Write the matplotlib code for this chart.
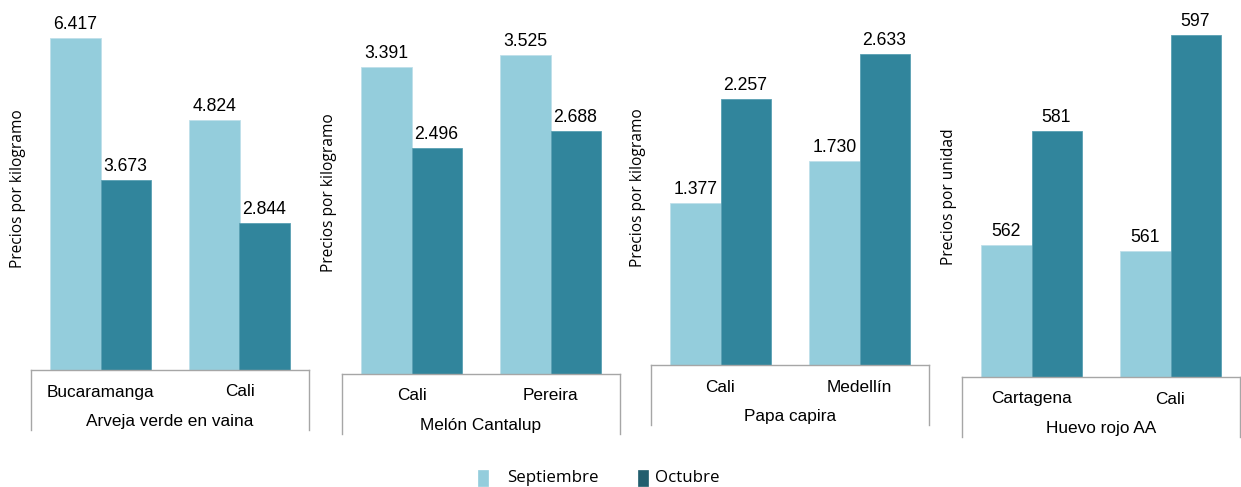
import matplotlib
matplotlib.use("Agg")
import matplotlib.pyplot as plt
from matplotlib.patches import Rectangle

# ---- data ----
products = ["Arveja verde en vaina", "Melón Cantalup", "Papa capira", "Huevo rojo AA"]
cities = [["Bucaramanga", "Cali"], ["Cali", "Pereira"], ["Cali", "Medellín"], ["Cartagena", "Cali"]]
septiembre = [[6.417, 4.824], [3.391, 3.525], [1.377, 1.730], [562, 561]]
octubre = [[3.673, 2.844], [2.496, 2.688], [2.257, 2.633], [581, 597]]
ylabels = ["Precios por kilogramo", "Precios por kilogramo", "Precios por kilogramo", "Precios por unidad"]
series_names = ["Septiembre", "Octubre"]
ylims = [(0, 7), (0, 4), (0, 3), (540, 600)]
fmt = ["{:.3f}", "{:.3f}", "{:.3f}", "{:.0f}"]

# ---- layout (pixels) ----
W, H = 1241, 487
# left, right, top, baseline
boxes = [(31, 309, 7.75, 370), (342, 620, 12, 374), (651, 929, 11, 365), (962, 1240, 17, 377)]
box_depth = 60

c_light = "#94CDDC"
c_dark = "#31859C"
c_dark_leg = "#225E6E"
c_line = "#A6A6A6"

fig = plt.figure(figsize=(W / 100, H / 100), dpi=100)

for i in range(4):
    l, r, t, b = boxes[i]
    ax = fig.add_axes([l / W, 1 - b / H, (r - l) / W, (b - t) / H])
    x = [0, 1]
    w = 0.36
    b1 = ax.bar([xi - w / 2 for xi in x], septiembre[i], width=w, color=c_light,
                edgecolor="#bfe0ea", linewidth=0.6)
    b2 = ax.bar([xi + w / 2 for xi in x], octubre[i], width=w, color=c_dark,
                edgecolor="#5aa0b3", linewidth=0.6)
    ax.set_xlim(-0.5, 1.5)
    ax.set_ylim(*ylims[i])
    for bars, vals in ((b1, septiembre[i]), (b2, octubre[i])):
        for rect, v in zip(bars, vals):
            ax.annotate(fmt[i].format(v), (rect.get_x() + rect.get_width() / 2, v),
                        xytext=(0, 3.5), textcoords="offset points", ha="center", va="bottom",
                        fontsize=12.7, family="Liberation Sans", color="#000000")
    for s in ("top", "right", "left"):
        ax.spines[s].set_visible(False)
    ax.spines["bottom"].set_color(c_line)
    ax.spines["bottom"].set_linewidth(1.0)
    ax.set_yticks([])
    ax.set_xticks([])
    hpx = b - t
    d = box_depth / hpx
    for xx in (0, 1):
        ax.plot([xx, xx], [0, -d], transform=ax.transAxes, color=c_line, lw=1.0, clip_on=False)
    for xi, c in zip(x, cities[i]):
        ax.text(xi, -22 / hpx, c, transform=ax.get_xaxis_transform(), ha="center", va="center",
                fontsize=12.4, family="Liberation Sans")
    ax.text(0.5, -51.5 / hpx, products[i], transform=ax.transAxes, ha="center", va="center",
            fontsize=12.4, family="Liberation Sans")
    ax.text(-13 / (r - l), 0.5, ylabels[i], transform=ax.transAxes, rotation=90,
            ha="center", va="center", fontsize=11.2, family="Open Sans")

# ---- legend (manual placement) ----
leg_items = [(478, c_light, 507), (638, c_dark_leg, 655)]
for (px, col, tx), name in zip(leg_items, series_names):
    fig.patches.append(Rectangle((px / W, 1 - 486 / H), 10 / W, 16 / H, transform=fig.transFigure,
                                 facecolor=col, edgecolor=col, linewidth=0.5))
    fig.text(tx / W, 1 - 478 / H, name, ha="left", va="center", fontsize=12.2,
             family="Open Sans")

fig.savefig("out.png", dpi=100)
